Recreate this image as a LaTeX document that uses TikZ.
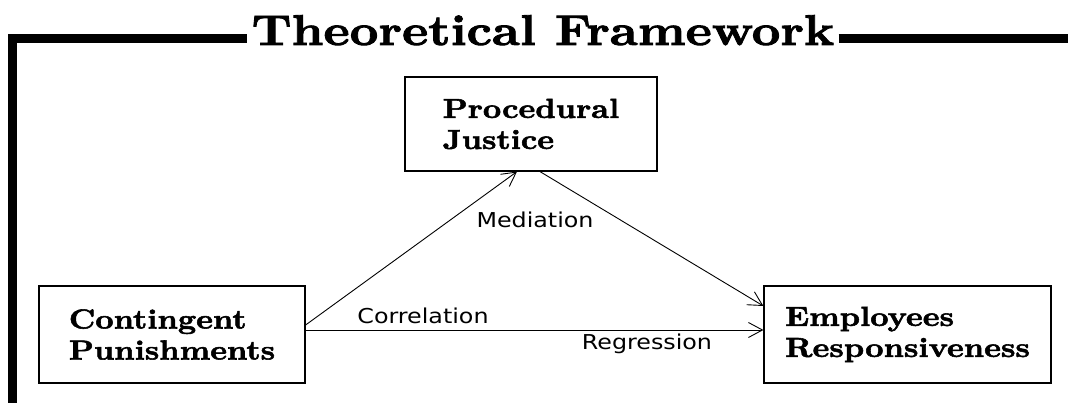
\documentclass[tikz,border=0pt]{standalone}
\usepackage{fontspec}
\newfontfamily\labelfont{DejaVu Sans}[FakeStretch=1.16]
\newfontfamily\heavyfont{lmroman10-bold}[Extension=.otf, FakeBold=2, FakeStretch=1.16]
\usetikzlibrary{arrows.meta}
\tikzset{
  frame/.style={line width=9pt},
  box/.style={draw, line width=1.2pt, align=left, inner sep=0pt,
    font=\fontsize{27.5}{31}\selectfont\heavyfont},
  conn/.style={line width=0.9pt, -{Straight Barb[length=14pt,width=15pt,line width=0.9pt]}},
  lbl/.style={font=\fontsize{20.5}{24}\selectfont\labelfont, inner sep=0pt}
}
\begin{document}
\begin{tikzpicture}[x=1pt,y=-1pt]
\useasboundingbox (0,0) rectangle (1068,403);
% title
\node[font=\fontsize{43}{43}\selectfont\heavyfont, anchor=base, inner sep=4pt] (title) at (543,45) {Theoretical Framework};
\coordinate (bl) at (12.5,403);
\coordinate (tl) at (12.5,38.5);
\coordinate (tr) at (1068,38.5);
\draw[frame] (bl) -- (tl) -- (tl -| title.west);
\draw[frame] (title.east |- tr) -- (tr);
% boxes
\node[box, minimum width=252, minimum height=94] (pj) at (531,124) {Procedural\\Justice};
\node[box, minimum width=266, minimum height=97] (cp) at (172,334.5) {Contingent\\Punishments};
\node[box, minimum width=287, minimum height=97] (er) at (907.5,334.5) {Employees\\Responsiveness};
% connectors
\draw[conn] ([yshift=9.5pt]cp.east) -- ([xshift=-14pt]pj.south);
\draw[conn] ([xshift=9pt]pj.south) -- ([yshift=28.5pt]er.west);
\draw[conn] ([yshift=4.5pt]cp.east) -- ([yshift=4.5pt]er.west);
% labels
\node[lbl] (med) at (535,220) {Mediation};
\node[lbl] (cor) at (423,316) {Correlation};
\node[lbl] (reg) at (647,344) {Regression};
\end{tikzpicture}
\end{document}
